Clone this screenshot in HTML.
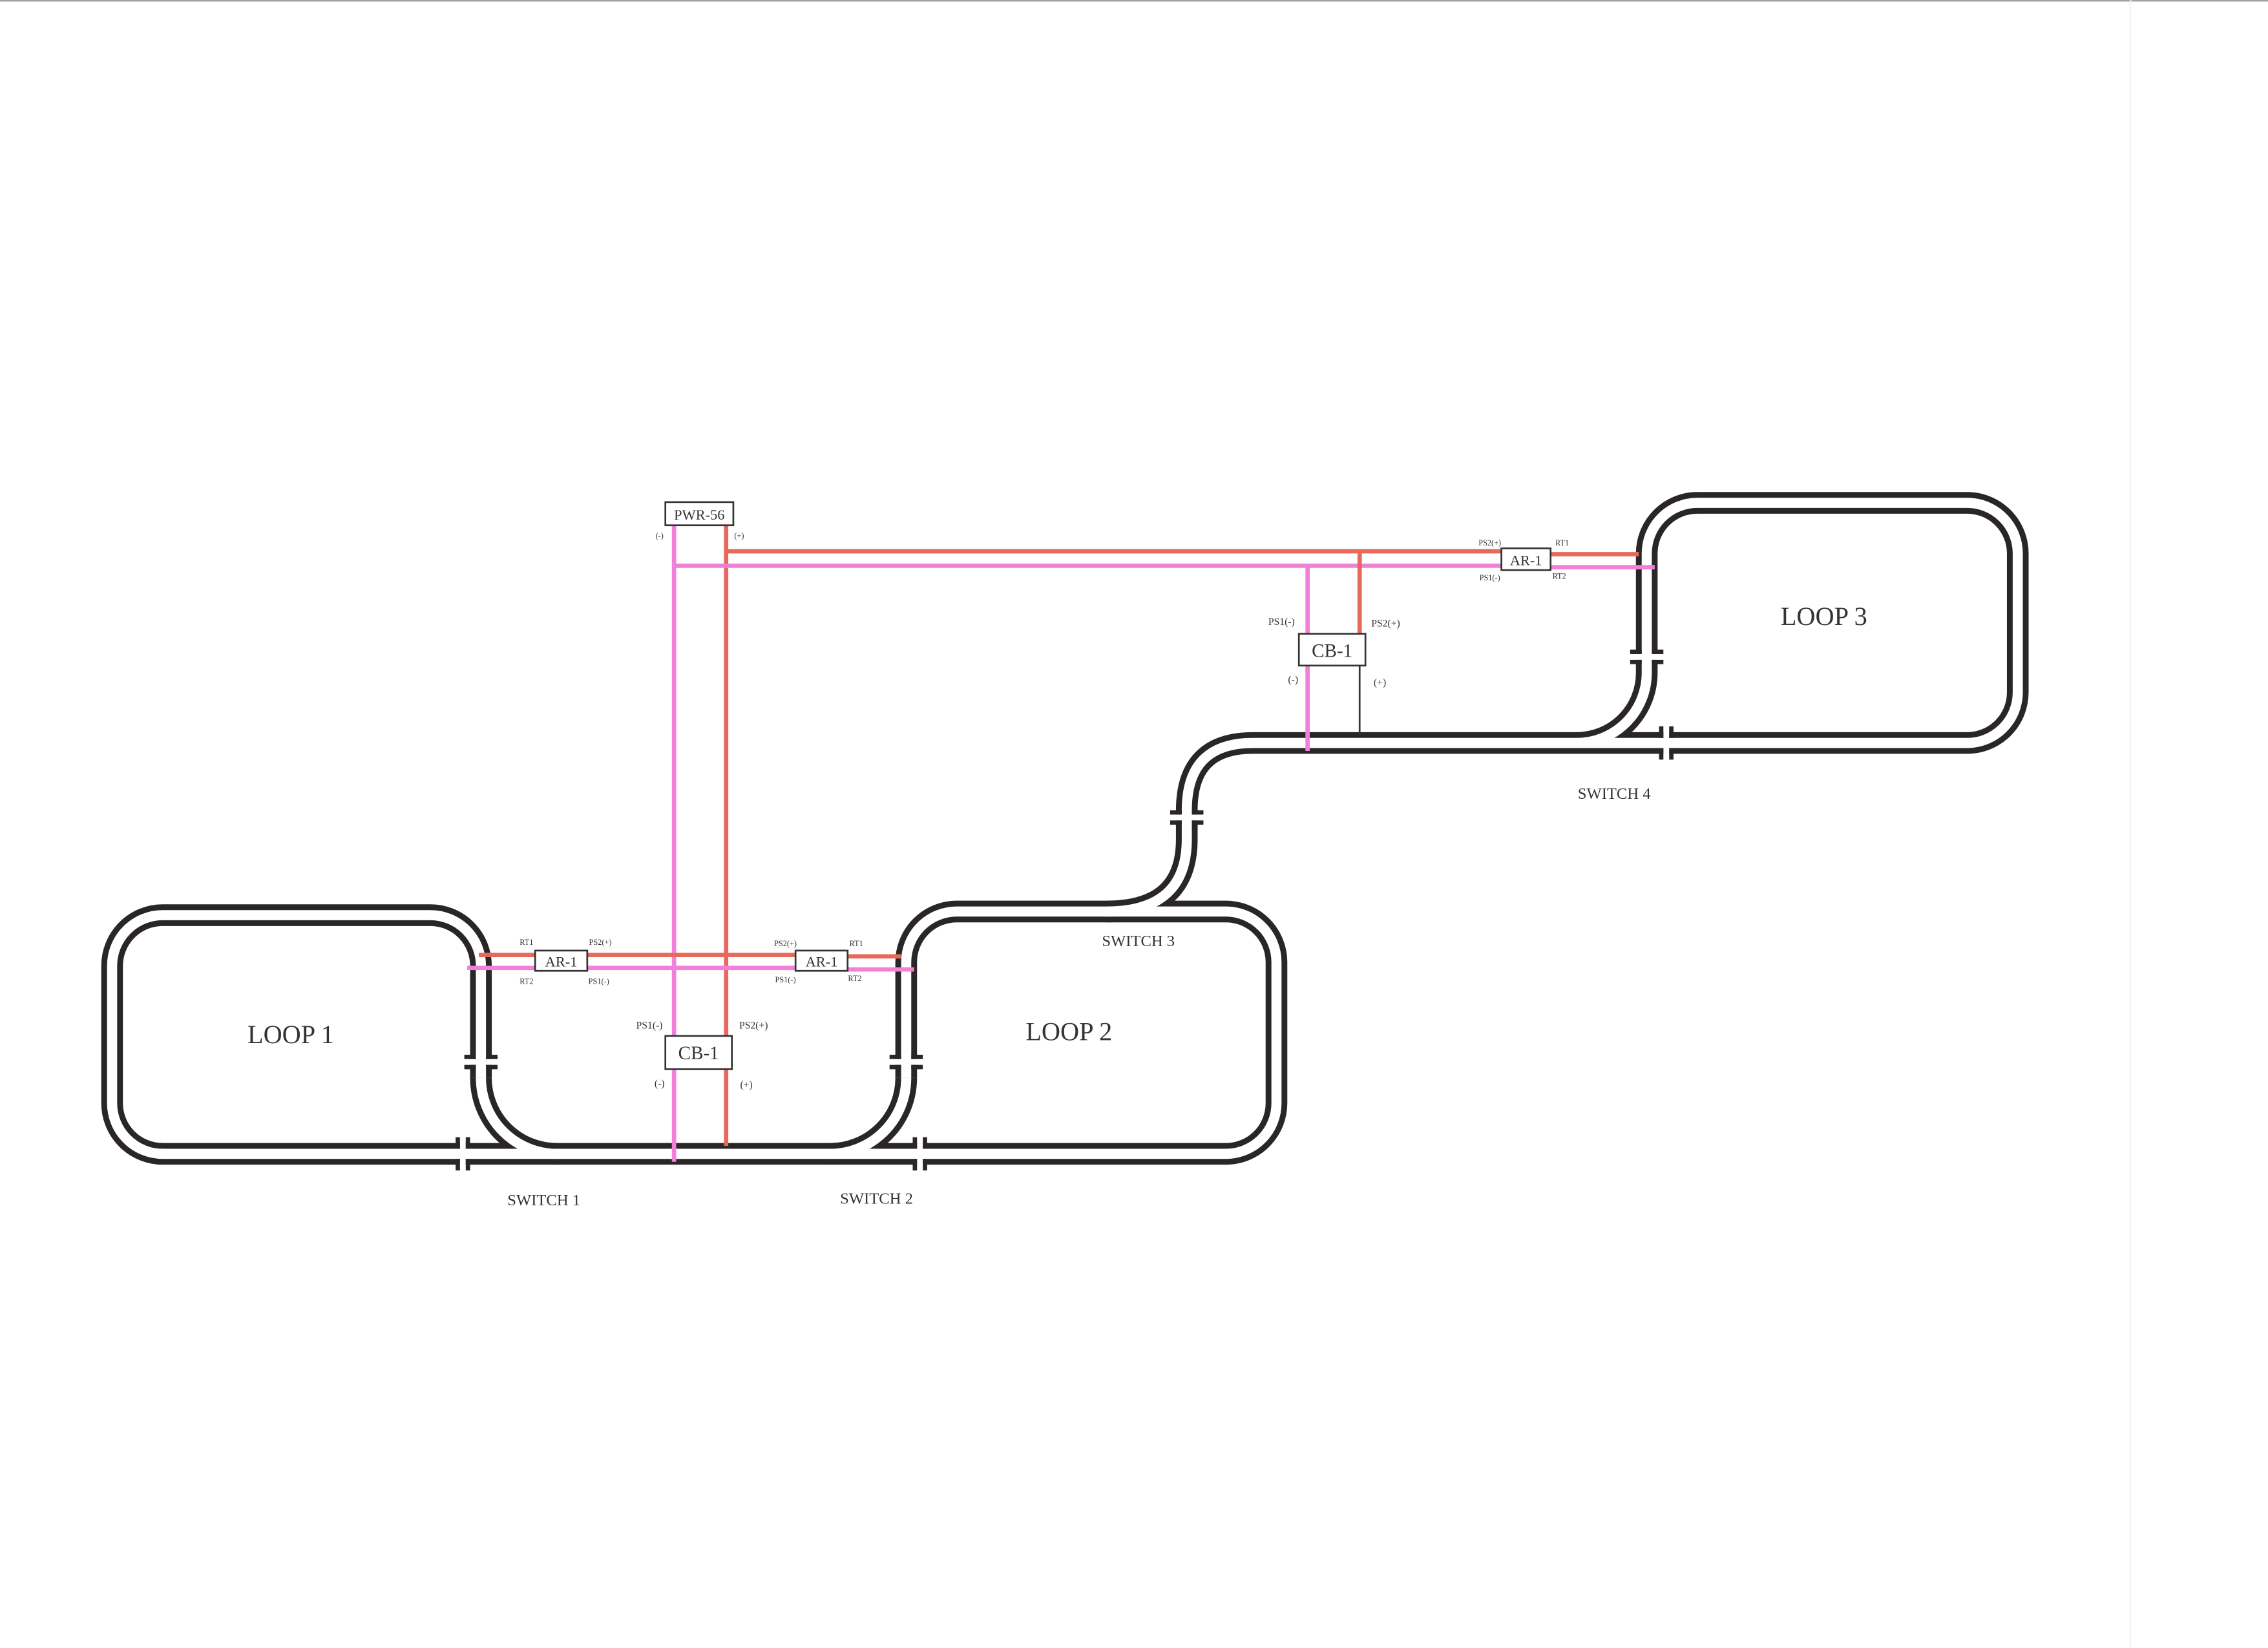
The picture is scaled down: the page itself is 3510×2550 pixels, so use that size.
<!DOCTYPE html>
<html><head><meta charset="utf-8"><style>
html,body{margin:0;padding:0;background:#fff;}
svg{display:block}
text{font-family:"Liberation Serif",serif;fill:#333;}
</style></head><body>
<svg width="3510" height="2550" viewBox="0 0 1568 1139" xmlns="http://www.w3.org/2000/svg">
<rect width="1568" height="1139" fill="#fff"/>
<line x1="0" y1="0.5" x2="1568" y2="0.5" stroke="#999" stroke-width="1"/>
<line x1="1473" y1="0" x2="1473" y2="1139" stroke="#f2f2f2" stroke-width="1"/>

<g fill="none" stroke-linejoin="round">
<g stroke="#2a2626" stroke-width="15">
<path id="t1" d="M332.5,745 L332.5,667.5 A35,35 0 0 0 297.5,632.5 L112.5,632.5 A35,35 0 0 0 77.5,667.5 L77.5,762.5 A35,35 0 0 0 112.5,797.5 L847.5,797.5 A35,35 0 0 0 882.5,762.5 L882.5,665 A35,35 0 0 0 847.5,630 L661.5,630 A35,35 0 0 0 626.5,665 L626.5,745"/>
<path d="M332.5,745 A52.5,52.5 0 0 0 385,797.5"/>
<path d="M626.5,745 A52.5,52.5 0 0 1 574,797.5"/>
<path d="M765,630 Q820.5,630 820.5,580 L820.5,560 Q820.5,513.5 866,513.5 L1360,513.5 A35,35 0 0 0 1395,478.5 L1395,382.5 A35,35 0 0 0 1360,347.5 L1173.5,347.5 A35,35 0 0 0 1138.5,382.5 L1138.5,465 A48.5,48.5 0 0 1 1090,513.5"/>
</g>
<g stroke="#fff" stroke-width="7">
<path d="M332.5,745 L332.5,667.5 A35,35 0 0 0 297.5,632.5 L112.5,632.5 A35,35 0 0 0 77.5,667.5 L77.5,762.5 A35,35 0 0 0 112.5,797.5 L847.5,797.5 A35,35 0 0 0 882.5,762.5 L882.5,665 A35,35 0 0 0 847.5,630 L661.5,630 A35,35 0 0 0 626.5,665 L626.5,745"/>
<path d="M332.5,745 A52.5,52.5 0 0 0 385,797.5"/>
<path d="M626.5,745 A52.5,52.5 0 0 1 574,797.5"/>
<path d="M765,630 Q820.5,630 820.5,580 L820.5,560 Q820.5,513.5 866,513.5 L1360,513.5 A35,35 0 0 0 1395,478.5 L1395,382.5 A35,35 0 0 0 1360,347.5 L1173.5,347.5 A35,35 0 0 0 1138.5,382.5 L1138.5,465 A48.5,48.5 0 0 1 1090,513.5"/>
</g>
</g>

<!-- insulator gaps -->
<g fill="#2a2626">
<!-- vertical-track gaps (horizontal bars) -->
<g id="gv1"><rect x="321" y="732" width="23" height="4" fill="#fff"/><rect x="321" y="729" width="8" height="3"/><rect x="336" y="729" width="8" height="3"/><rect x="321" y="736" width="8" height="3"/><rect x="336" y="736" width="8" height="3"/></g>
<g><rect x="615" y="732" width="23" height="4" fill="#fff"/><rect x="615" y="729" width="8" height="3"/><rect x="630" y="729" width="8" height="3"/><rect x="615" y="736" width="8" height="3"/><rect x="630" y="736" width="8" height="3"/></g>
<g><rect x="809" y="563" width="23" height="4" fill="#fff"/><rect x="809" y="560" width="8" height="3"/><rect x="824" y="560" width="8" height="3"/><rect x="809" y="567" width="8" height="3"/><rect x="824" y="567" width="8" height="3"/></g>
<g><rect x="1127" y="452" width="23" height="4" fill="#fff"/><rect x="1127" y="449" width="8" height="3"/><rect x="1142" y="449" width="8" height="3"/><rect x="1127" y="456" width="8" height="3"/><rect x="1142" y="456" width="8" height="3"/></g>
<!-- horizontal-track gaps -->
<g><rect x="318" y="786" width="4" height="23" fill="#fff"/><rect x="315" y="786" width="3" height="8"/><rect x="315" y="801" width="3" height="8"/><rect x="322" y="786" width="3" height="8"/><rect x="322" y="801" width="3" height="8"/></g>
<g><rect x="634" y="786" width="4" height="23" fill="#fff"/><rect x="631" y="786" width="3" height="8"/><rect x="631" y="801" width="3" height="8"/><rect x="638" y="786" width="3" height="8"/><rect x="638" y="801" width="3" height="8"/></g>
<g><rect x="1150" y="502" width="4" height="23" fill="#fff"/><rect x="1147" y="502" width="3" height="8"/><rect x="1147" y="517" width="3" height="8"/><rect x="1154" y="502" width="3" height="8"/><rect x="1154" y="517" width="3" height="8"/></g>
</g>

<!-- wires -->
<g stroke-width="3" fill="none">
<line x1="466" y1="363" x2="466" y2="803" stroke="#f080d8"/>
<line x1="502" y1="363" x2="502" y2="792" stroke="#e8685c"/>
<line x1="502" y1="381" x2="1038" y2="381" stroke="#e8685c"/>
<line x1="1072" y1="383" x2="1133" y2="383" stroke="#e8685c"/>
<line x1="466" y1="391" x2="1038" y2="391" stroke="#f080d8"/>
<line x1="1072" y1="392" x2="1144" y2="392" stroke="#f080d8"/>
<line x1="904" y1="391" x2="904" y2="438" stroke="#f080d8"/>
<line x1="904" y1="460" x2="904" y2="519" stroke="#f080d8"/>
<line x1="940" y1="381" x2="940" y2="438" stroke="#e8685c"/>
<line x1="940" y1="460" x2="940" y2="508" stroke="#333" stroke-width="1.2"/>
<line x1="331" y1="660" x2="370" y2="660" stroke="#e8685c"/>
<line x1="406" y1="660" x2="550" y2="660" stroke="#e8685c"/>
<line x1="586" y1="661" x2="623" y2="661" stroke="#e8685c"/>
<line x1="323" y1="669" x2="370" y2="669" stroke="#f080d8"/>
<line x1="406" y1="669" x2="550" y2="669" stroke="#f080d8"/>
<line x1="586" y1="670" x2="632" y2="670" stroke="#f080d8"/>
</g>

<!-- boxes -->
<g fill="#fff" stroke="#333" stroke-width="1.2">
<rect x="460" y="347" width="47" height="16"/>
<rect x="1038" y="379" width="34" height="15"/>
<rect x="898" y="438" width="46" height="22"/>
<rect x="370" y="657" width="36" height="14"/>
<rect x="550" y="657" width="36" height="14"/>
<rect x="460" y="716" width="46" height="23"/>
</g>
<g text-anchor="middle">
<text x="483.5" y="359" font-size="10">PWR-56</text>
<text x="1055" y="390.5" font-size="10">AR-1</text>
<text x="921" y="454" font-size="13">CB-1</text>
<text x="388" y="668" font-size="10">AR-1</text>
<text x="568" y="668" font-size="10">AR-1</text>
<text x="483" y="732" font-size="13">CB-1</text>
</g>
<g font-size="5.5" text-anchor="middle">
<text x="456" y="372">(-)</text><text x="511" y="372">(+)</text>
<text x="1030" y="377">PS2(+)</text><text x="1080" y="377">RT1</text>
<text x="1030" y="401">PS1(-)</text><text x="1078" y="400">RT2</text>
<text x="364" y="653">RT1</text><text x="415" y="653">PS2(+)</text>
<text x="364" y="680">RT2</text><text x="414" y="680">PS1(-)</text>
<text x="543" y="654">PS2(+)</text><text x="592" y="654">RT1</text>
<text x="543" y="679">PS1(-)</text><text x="591" y="678">RT2</text>
</g>
<g font-size="7" text-anchor="middle">
<text x="886" y="432">PS1(-)</text><text x="958" y="433">PS2(+)</text>
<text x="894" y="472">(-)</text><text x="954" y="474">(+)</text>
<text x="449" y="711">PS1(-)</text><text x="521" y="711">PS2(+)</text>
<text x="456" y="751">(-)</text><text x="516" y="752">(+)</text>
</g>
<g font-size="18" text-anchor="middle">
<text x="201" y="721">LOOP 1</text>
<text x="739" y="719">LOOP 2</text>
<text x="1261" y="432">LOOP 3</text>
</g>
<g font-size="11" text-anchor="middle">
<text x="376" y="833">SWITCH 1</text>
<text x="606" y="832">SWITCH 2</text>
<text x="787" y="654">SWITCH 3</text>
<text x="1116" y="552">SWITCH 4</text>
</g>
</svg>
</body></html>
